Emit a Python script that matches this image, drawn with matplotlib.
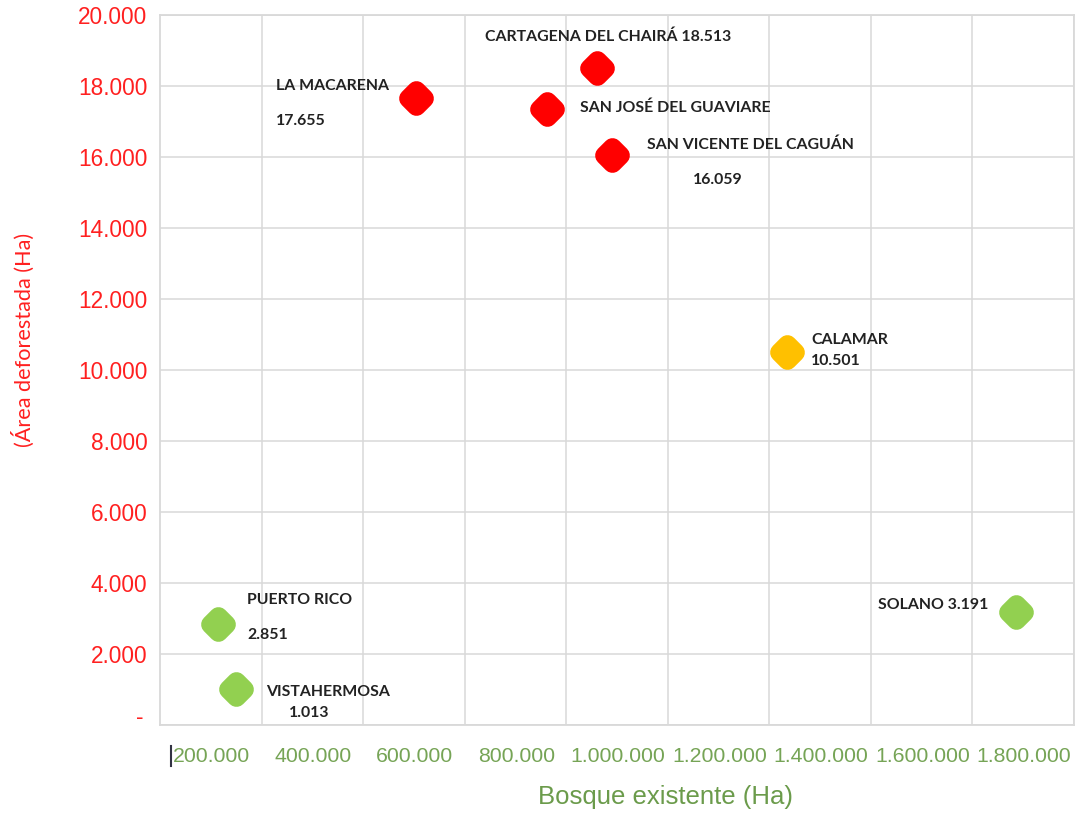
import matplotlib
matplotlib.use("Agg")
import matplotlib.pyplot as plt
from matplotlib.markers import MarkerStyle
from matplotlib.transforms import ScaledTranslation
from matplotlib.lines import Line2D

# ---------------- data ----------------
municipios = ["LA MACARENA", "CARTAGENA DEL CHAIRÁ", "SAN JOSÉ DEL GUAVIARE",
              "SAN VICENTE DEL CAGUÁN", "CALAMAR", "PUERTO RICO",
              "VISTAHERMOSA", "SOLANO"]
bosque_existente = [505000, 861000, 763000, 891000, 1234000, 114000, 150000, 1686000]
area_deforestada = [17655, 18513, 17350, 16059, 10501, 2851, 1013, 3191]
mostrar_valor = [True, True, False, True, True, True, True, True]
nivel = ["alto", "alto", "alto", "alto", "medio", "bajo", "bajo", "bajo"]

x_ticks = [200000, 400000, 600000, 800000, 1000000, 1200000, 1400000, 1600000, 1800000]
x_ticklabels = ["200.000", "400.000", "600.000", "800.000", "1.000.000",
                "1.200.000", "1.400.000", "1.600.000", "1.800.000"]
y_ticks = [0, 2000, 4000, 6000, 8000, 10000, 12000, 14000, 16000, 18000, 20000]
y_ticklabels = ["-", "2.000", "4.000", "6.000", "8.000", "10.000", "12.000",
                "14.000", "16.000", "18.000", "20.000"]

# ---------------- styles / layout ----------------
colores = {"alto": "#ff0000", "medio": "#ffc000", "bajo": "#92d050"}
# label layout: (name dx, name dy, value dx, value dy, same_line) in pixels (y down)
etiquetas = [
    (-140.7, -13.3, -140.7, 21.7, False),
    (-112.3, -32.8, None, None, True),
    (32.3, -3.0, None, None, False),
    (34.4, -11.8, 81.0, 23.2, False),
    (24.3, -14.1, 24.3, 7.5, False),
    (29.0, -25.2, 29.0, 10.0, False),
    (30.4, 1.1, 52.7, 22.8, False),
    (-138.0, -8.4, None, None, True),
]

def fmt(v):
    return f"{v:,}".replace(",", ".")

W, H, DPI = 1086, 815, 100
fig = plt.figure(figsize=(W / DPI, H / DPI), dpi=DPI)
ax = fig.add_axes([160 / W, (H - 725) / H, (1074 - 160) / W, (725 - 15) / H])

grid_c = "#d9d9d9"
ax.set_xlim(0, 1800000)
ax.set_ylim(0, 20000)
ax.set_xticks(x_ticks)
ax.set_xticklabels(x_ticklabels)
ax.set_yticks(y_ticks)
ax.set_yticklabels(y_ticklabels)
ax.grid(True, color=grid_c, linewidth=1.1)
ax.set_axisbelow(True)
for s in ax.spines.values():
    s.set_color(grid_c)
    s.set_linewidth(1.3)

ax.tick_params(axis="x", length=0, pad=16, labelsize=15.3, labelcolor="#76a456")
ax.tick_params(axis="y", length=0, pad=9, labelsize=16.3, labelcolor="#ff2020")
for lab in ax.get_xticklabels():
    lab.set_fontfamily("Liberation Sans")
    lab.set_transform(lab.get_transform() + ScaledTranslation(-50 / DPI, 0, fig.dpi_scale_trans))
for lab in ax.get_yticklabels():
    lab.set_fontfamily("Liberation Sans")
zero_lab = ax.get_yticklabels()[0]
zero_lab.set_transform(zero_lab.get_transform() + ScaledTranslation(-4 / DPI, 10 / DPI, fig.dpi_scale_trans))

marker = MarkerStyle("D", joinstyle="round")
PX = 72 / DPI
for i in range(len(municipios)):
    c = colores[nivel[i]]
    ax.plot([bosque_existente[i]], [area_deforestada[i]], linestyle="none",
            marker=marker, markersize=8.6, markerfacecolor=c, markeredgecolor=c,
            markeredgewidth=13.5, zorder=3)
    ndx, ndy, vdx, vdy, same = etiquetas[i]
    name = municipios[i]
    if same:
        name = f"{name} {fmt(area_deforestada[i])}"
    ax.annotate(name, (bosque_existente[i], area_deforestada[i]),
                xytext=(ndx * PX, -ndy * PX), textcoords="offset points",
                ha="left", va="center_baseline", fontsize=11.4, fontweight="bold",
                family="Lato", color="#222222", zorder=4)
    if mostrar_valor[i] and not same:
        ax.annotate(fmt(area_deforestada[i]), (bosque_existente[i], area_deforestada[i]),
                    xytext=(vdx * PX, -vdy * PX), textcoords="offset points",
                    ha="left", va="center_baseline", fontsize=11.4, fontweight="bold",
                    family="Lato", color="#222222", zorder=4)

fig.text(23 / W, 1 - 340 / H, "(Área deforestada (Ha)", rotation=90,
         ha="center", va="center", fontsize=15.6, color="#ff2020", family="Lato")
fig.text(666 / W, 1 - 797 / H, "Bosque existente (Ha)", ha="center", va="center",
         fontsize=18.5, color="#6b9b4b", family="Liberation Sans")

fig.add_artist(Line2D([170.5 / W, 170.5 / W], [1 - 746 / H, 1 - 766 / H],
                      color="#333344", linewidth=1.5))

fig.savefig("out.png", dpi=DPI, facecolor="white")
